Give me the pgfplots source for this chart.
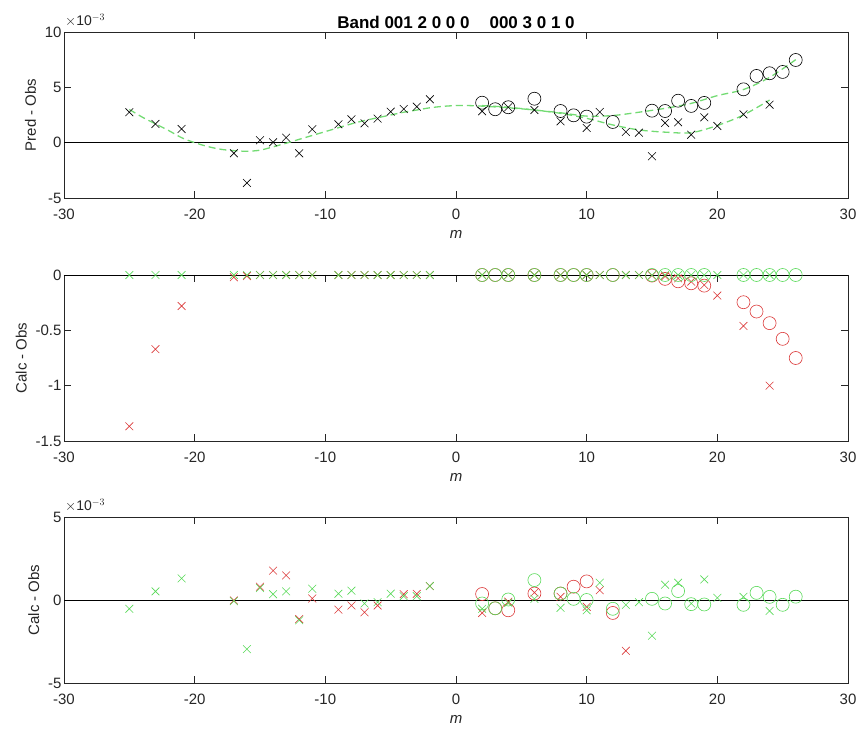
\documentclass[border=0pt]{standalone}
\usepackage{fontspec}
\setmainfont{Liberation Sans}
\usepackage{pgfplots}
\pgfplotsset{compat=1.18}

\definecolor{mgreen}{rgb}{0.34,0.85,0.34}
\definecolor{mred}{rgb}{0.86,0.22,0.22}
\definecolor{fitgreen}{rgb}{0.45,0.86,0.45}
\definecolor{axgray}{rgb}{0.15,0.15,0.15}

\tikzset{scalelabel/.style={anchor=south west, font=\fontsize{14bp}{16bp}\selectfont,
    text=axgray, inner sep=1bp, yshift=4bp}}

\pgfplotsset{
  panel/.style={
    scale only axis, width=784bp, height=166bp,
    clip mode=individual,
    xmin=-30, xmax=30, xtick={-30,-20,...,30},
    tick align=inside, major tick length=7bp,
    axis line style={axgray, line width=0.6bp},
    tick style={axgray, line width=0.6bp},
    ticklabel style={font=\fontsize{15bp}{17bp}\selectfont, text=axgray},
    xticklabel style={yshift=-8bp},
    yticklabel style={xshift=1bp},
    /pgf/number format/assume math mode=true,
    xlabel={\itshape m},
    xlabel style={font=\fontsize{15bp}{17bp}\selectfont, text=axgray, yshift=-3bp},
    ylabel style={font=\fontsize{15bp}{17bp}\selectfont, text=axgray, yshift=2bp},
  },
  xs/.style={only marks, mark=x, mark size=5.5bp, line width=0.6bp},
  os/.style={only marks, mark=o, mark size=6.5bp, line width=0.6bp},
  fit/.style={fitgreen, line width=1.3bp, dash pattern=on 7bp off 4bp, smooth, no marks},
  zero/.style={black, line width=0.8bp, no marks, forget plot},
}

\begin{document}
\begin{tikzpicture}
\useasboundingbox (0,0) rectangle (864bp,732bp);

% ---- top: Pred - Obs (x 1e-3)
\begin{axis}[panel, at={(64bp,534bp)}, anchor=south west,
    ymin=-5, ymax=10, ytick={-5,0,5,10},
    ylabel={Pred - Obs},
    title={Band 001 2 0 0 0\hspace{20bp}000 3 0 1 0},
    title style={font=\bfseries\fontsize{17bp}{19bp}\selectfont, yshift=-6bp},
  ]
  \addplot[zero] coordinates {(-30,0) (30,0)};
  \addplot[fit] coordinates {
    (-25,3.0) (-24,2.3) (-23,1.7) (-22,1.1) (-21,0.45) (-20,0.0) (-19,-0.35)
    (-18,-0.6) (-17,-0.72) (-16,-0.78) (-15,-0.68) (-14,-0.38) (-13,-0.05)
    (-12,0.3) (-11,0.65) (-10,1.0) (-9,1.35) (-8,1.7) (-7,2.0) (-6,2.25)
    (-5,2.5) (-4,2.75) (-3,2.95) (-2,3.15) (-1,3.28) (0,3.35) (1,3.35)
    (2,3.3) (4,3.15) (6,2.95) (8,2.65) (10,2.2) (12,1.6) (14,1.15)
    (16,0.95) (18,0.9) (20,1.55) (22,2.5) (24,3.85)
  };
  \addplot[fit] coordinates {
    (2,3.35) (4,3.2) (6,2.95) (8,2.7) (10,2.4) (12,2.45) (14,2.75)
    (16,3.1) (18,3.55) (20,4.25) (22,4.8) (24,5.9) (26,7.5)
  };
  \addplot[xs, black] coordinates {
    (-25,2.75) (-23,1.69) (-21,1.24) (-17,-0.96) (-16,-3.64) (-15,0.22)
    (-14,0.03) (-13,0.45) (-12,-0.96) (-11,1.21) (-9,1.66) (-8,2.11)
    (-7,1.75) (-6,2.17) (-5,2.8) (-4,3.04) (-3,3.25) (-2,3.92)
    (2,2.84) (4,3.2) (6,2.95) (8,1.93) (10,1.33) (11,2.77) (13,0.97)
    (14,0.9) (15,-1.23) (16,1.78) (17,1.84) (18,0.72) (19,2.29) (20,1.51)
    (22,2.56) (24,3.43)
  };
  \addplot[os, black] coordinates {
    (2,3.61) (3,3.02) (4,3.2) (6,3.97) (8,2.86) (9,2.47) (10,2.35) (12,1.87)
    (15,2.89) (16,2.86) (17,3.79) (18,3.32) (19,3.59) (22,4.82) (23,6.03)
    (24,6.27) (25,6.39) (26,7.47)
  };
  \node[scalelabel] at (rel axis cs:0,1) {$\times$10$^{-3}$};
\end{axis}

% ---- middle: Calc - Obs
\begin{axis}[panel, at={(64bp,291bp)}, anchor=south west,
    ymin=-1.5, ymax=0, ytick={-1.5,-1,-0.5,0},
    ylabel={Calc - Obs},
  ]
  \addplot[zero] coordinates {(-30,0) (30,0)};
  \addplot[xs, mred] coordinates {
    (-25,-1.367) (-23,-0.67) (-21,-0.28) (-17,-0.02) (-16,-0.01) (-15,0)
    (-14,0) (-13,0) (-12,0) (-11,0) (-9,0) (-8,0) (-7,0) (-6,0) (-5,0)
    (-4,0) (-3,0) (-2,0) (2,0) (4,0) (6,0) (8,0) (10,0) (11,0) (13,0)
    (14,0) (15,-0.005) (16,-0.012) (17,-0.03) (18,-0.06) (19,-0.09)
    (20,-0.186) (22,-0.46) (24,-1.0)
  };
  \addplot[os, mred] coordinates {
    (2,0) (3,0) (4,0) (6,0) (8,0) (9,0) (10,0) (12,0) (15,-0.005)
    (16,-0.035) (17,-0.057) (18,-0.075) (19,-0.096) (22,-0.246)
    (23,-0.33) (24,-0.435) (25,-0.577) (26,-0.75)
  };
  \addplot[xs, mgreen] coordinates {
    (-25,0) (-23,0) (-21,0) (-17,0) (-16,0) (-15,0) (-14,0) (-13,0)
    (-12,0) (-11,0) (-9,0) (-8,0) (-7,0) (-6,0) (-5,0) (-4,0) (-3,0)
    (-2,0) (2,0) (4,0) (6,0) (8,0) (10,0) (11,0) (13,0) (14,0) (15,0)
    (16,0) (17,0) (18,0) (19,0) (20,0) (22,0) (24,0)
  };
  \addplot[os, mgreen] coordinates {
    (2,0) (3,0) (4,0) (6,0) (8,0) (9,0) (10,0) (12,0) (15,0) (16,0)
    (17,0) (18,0) (19,0) (22,0) (23,0) (24,0) (25,0) (26,0)
  };
\end{axis}

% ---- bottom: Calc - Obs (x 1e-3)
\begin{axis}[panel, at={(64bp,49bp)}, anchor=south west,
    ymin=-5, ymax=5, ytick={-5,0,5},
    ylabel={Calc - Obs},
  ]
  \addplot[zero] coordinates {(-30,0) (30,0)};
  \addplot[xs, mred] coordinates {
    (-17,-0.03) (-15,0.8) (-14,1.77) (-13,1.48) (-12,-1.15) (-11,0.09)
    (-9,-0.58) (-8,-0.33) (-7,-0.74) (-6,-0.33) (-4,0.35) (-3,0.37)
    (-2,0.84) (2,-0.78) (4,-0.1) (6,0.45) (8,0.19) (10,-0.41) (11,0.59)
    (13,-3.06)
  };
  \addplot[os, mred] coordinates {
    (2,0.36) (3,-0.5) (4,-0.62) (6,0.39) (8,0.39) (9,0.8) (10,1.12)
    (12,-0.78)
  };
  \addplot[xs, mgreen] coordinates {
    (-25,-0.53) (-23,0.52) (-21,1.3) (-17,-0.07) (-16,-2.96) (-15,0.72)
    (-14,0.35) (-13,0.52) (-12,-1.22) (-11,0.68) (-9,0.38) (-8,0.56)
    (-7,-0.21) (-6,-0.13) (-5,0.38) (-4,0.23) (-3,0.23) (-2,0.84)
    (2,-0.53) (4,-0.17) (6,0.07) (8,-0.47) (10,-0.62) (11,1.04) (13,-0.29)
    (14,-0.13) (15,-2.15) (16,0.92) (17,1.04) (18,-0.21) (19,1.24)
    (20,0.13) (22,0.19) (24,-0.66)
  };
  \addplot[os, mgreen] coordinates {
    (2,-0.21) (3,-0.5) (4,0.03) (6,1.2) (8,0.39) (9,0.07) (10,0)
    (12,-0.53) (15,0.07) (16,-0.21) (17,0.54) (18,-0.25) (19,-0.27)
    (22,-0.29) (23,0.43) (24,0.19) (25,-0.29) (26,0.2)
  };
  \node[scalelabel] at (rel axis cs:0,1) {$\times$10$^{-3}$};
\end{axis}
\end{tikzpicture}
\end{document}
